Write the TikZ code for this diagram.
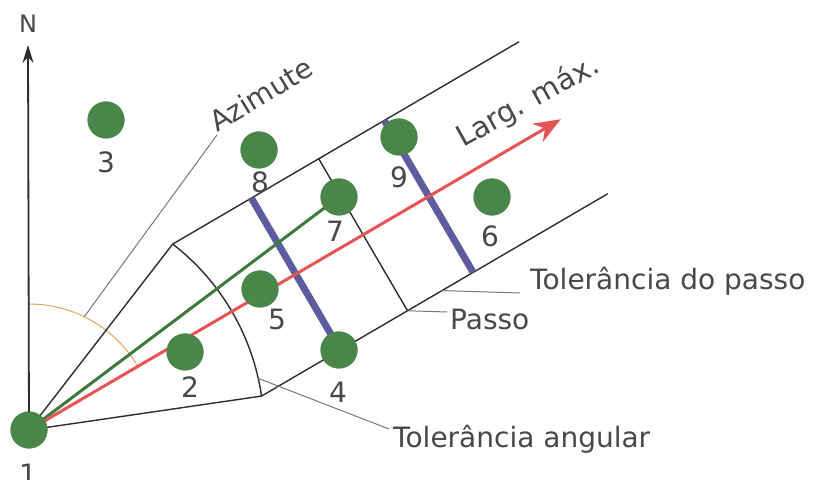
\documentclass[tikz,border=0pt]{standalone}
\usepackage{fontspec}
\setmainfont{DejaVu Sans}
\usetikzlibrary{arrows.meta}
\definecolor{dotgreen}{RGB}{74,134,74}
\definecolor{lgreen}{RGB}{62,122,62}
\definecolor{lred}{RGB}{230,84,84}
\definecolor{lblue}{RGB}{92,92,158}
\definecolor{lorange}{RGB}{232,165,90}
\definecolor{lblack}{RGB}{45,45,45}
\definecolor{lgray}{RGB}{120,120,120}
\definecolor{tgray}{RGB}{72,72,72}
\begin{document}
\begin{tikzpicture}[x=1pt,y=1pt,
  dot/.style={circle,fill=dotgreen,minimum size=37pt,inner sep=0pt},
  lab/.style={anchor=base,text=tgray,font=\fontsize{28}{30}\selectfont,inner sep=0pt},
  bandline/.style={draw=lblack,line width=1.4pt},
  leader/.style={draw=lgray,line width=1pt},
  blueline/.style={draw=lblue,line width=7pt},
]
\useasboundingbox (0,0) rectangle (818,479);
\fill[white] (0,0) rectangle (818,479);

% dots
\node[dot] (p1) at (29,49) {};
\node[dot] (p2) at (185,127) {};
\node[dot] (p3) at (106,359) {};
\node[dot] (p4) at (339,129) {};
\node[dot] (p5) at (260,190) {};
\node[dot] (p6) at (492,282) {};
\node[dot] (p7) at (339,282) {};
\node[dot] (p8) at (259,329) {};
\node[dot] (p9) at (399,342) {};

% band geometry
\begin{scope}[shift={(29,49)},rotate=30.3]
  \coordinate (cu) at (22:235);
  \coordinate (cl) at (-22:235);
  \coordinate (bu) at (619,88);
  \coordinate (bl) at (619,-88);
  \coordinate (pu) at (387,88);
  \coordinate (pl) at (387,-88);
  \coordinate (b1u) at (309,88);
  \coordinate (b1l) at (309,-88);
  \coordinate (b2u) at (463,88);
  \coordinate (b2l) at (463,-88);
  \coordinate (tip) at (616,0);
  \coordinate (tal) at (-17.6:235);
  \coordinate (tdp) at (427,-88);
  \draw[bandline] (cl) arc[start angle=-22,end angle=22,radius=235pt];
\end{scope}
\coordinate (ntip) at (28,434);
\coordinate (az1) at (84.2,162.2);
\coordinate (az2) at (217,344);
\coordinate (tae) at (389,50);
\coordinate (pse) at (447,167);
\coordinate (tdpe) at (520,186);

% azimuth arc
\draw[lorange,line width=1pt] (p1.center) ++(90:126) arc[start angle=90,end angle=30.3,radius=126pt];

% band lines
\draw[bandline] (p1.center) -- (cu) -- (bu);
\draw[bandline] (p1.center) -- (cl) -- (bl);
\draw[bandline] (pu) -- (pl);

% leaders
\draw[leader] (az1) -- (az2);
\draw[leader] (tal) -- (tae);
\draw[leader] (pl) -- (pse);
\draw[leader] (tdp) -- (tdpe);

% North arrow
\draw[lblack,line width=1.8pt,-{Stealth[length=18pt,width=11pt]}] (p1.center) -- (ntip);

% blue lines
\draw[blueline] (b1u) -- (b1l);
\draw[blueline] (b2u) -- (b2l);

% green and red lines
\draw[lgreen,line width=3pt] (p1.center) -- (p7.center);
\draw[lred,line width=3pt,-{Stealth[length=27pt,width=21pt]}] (p1.center) -- (tip);

% redraw dots on top
\foreach \p in {p1,p2,p3,p4,p5,p6,p7,p8,p9}{\fill[dotgreen] (\p) circle[radius=18.5pt];}

% point labels
\node[lab] (l1) at (28,-5) {1};
\node[lab] (l2) at (190,82) {2};
\node[lab] (l3) at (106,306) {3};
\node[lab] (l4) at (338,77) {4};
\node[lab] (l5) at (277,149) {5};
\node[lab] (l6) at (490,232) {6};
\node[lab] (l7) at (335,237) {7};
\node[lab] (l8) at (260,286) {8};
\node[lab] (l9) at (399,291) {9};
\node[lab,font=\fontsize{24}{26}\selectfont] (lN) at (28,446) {N};

% text labels
\node[lab,anchor=base west,rotate=31] (taz) at (217,346) {Azimute};
\node[lab,anchor=base west,rotate=29,font=\fontsize{29}{31}\selectfont] (tlm) at (463,331) {Larg. máx.};
\node[lab,anchor=base west] (tta) at (393,32) {Tolerância angular};
\node[lab,anchor=base west] (tps) at (450,149) {Passo};
\node[lab,anchor=base west] (ttp) at (530,189) {Tolerância do passo};
\end{tikzpicture}
\end{document}
